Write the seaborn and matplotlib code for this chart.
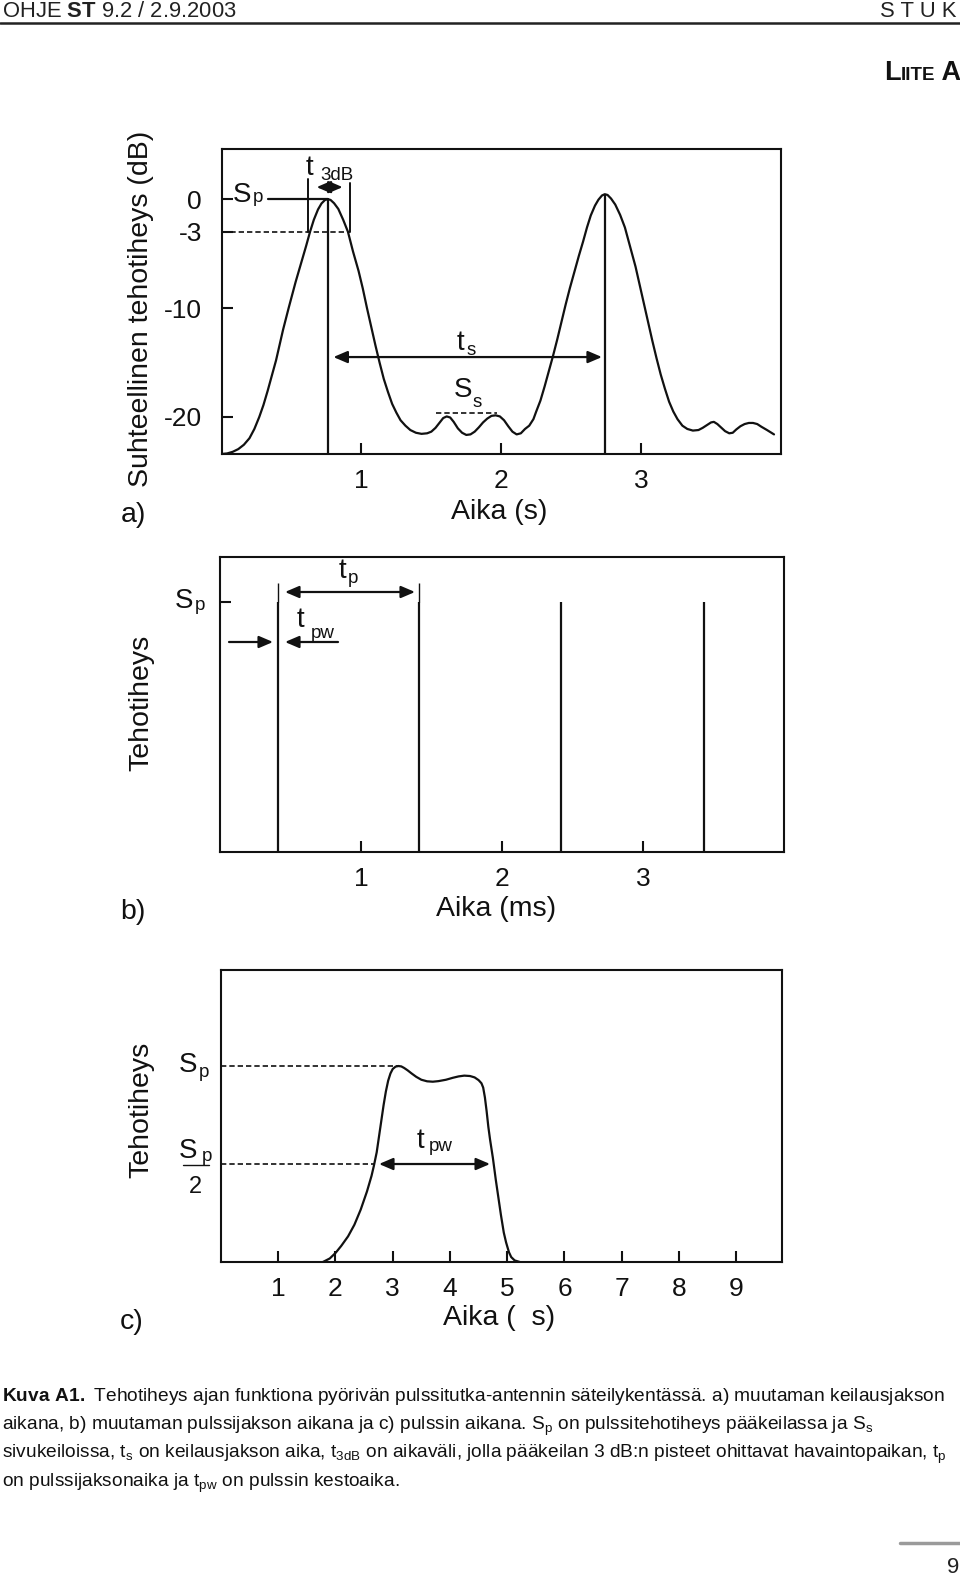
import matplotlib
matplotlib.use("Agg")
import matplotlib.pyplot as plt
from matplotlib import font_manager
from matplotlib.lines import Line2D
from matplotlib.offsetbox import TextArea, HPacker, AnnotationBbox
import seaborn as sns
import pandas as pd

# ---------------- data ----------------
# a) relative power density (dB) during a few scan periods, time in s
scan_time = [0.00, 0.04, 0.08, 0.12, 0.16, 0.20, 0.235, 0.27, 0.30, 0.33, 0.36, 0.39, 0.415, 0.44, 0.46,
             0.48, 0.505, 0.53, 0.555, 0.575, 0.605, 0.633, 0.66, 0.69, 0.715, 0.74, 0.76,
             0.78, 0.805, 0.835, 0.87, 0.904, 0.94, 0.98, 1.01, 1.04, 1.07, 1.10, 1.13, 1.16, 1.19,
             1.22, 1.25, 1.28, 1.315, 1.35, 1.39, 1.43, 1.47, 1.50,
             1.53, 1.56, 1.585, 1.61, 1.635, 1.66, 1.69, 1.72, 1.75, 1.78, 1.81, 1.84, 1.87, 1.90,
             1.93, 1.96, 1.99, 2.02, 2.05, 2.08, 2.11, 2.14, 2.17, 2.20, 2.23,
             2.25, 2.28, 2.31, 2.34, 2.37, 2.40, 2.43, 2.46, 2.49, 2.52, 2.555, 2.585, 2.613, 2.64,
             2.67, 2.695, 2.72, 2.74, 2.76, 2.785, 2.815, 2.85, 2.884, 2.92, 2.96, 2.99, 3.02, 3.05,
             3.08, 3.11, 3.14, 3.17, 3.20, 3.23, 3.26, 3.295, 3.33, 3.37, 3.41,
             3.44, 3.47, 3.50, 3.52, 3.545, 3.57, 3.60, 3.63, 3.655, 3.68, 3.71, 3.74, 3.77, 3.80,
             3.83, 3.86, 3.90, 3.95]
scan_db = [-23.4, -23.35, -23.2, -22.95, -22.55, -21.95, -21.1, -20.0, -18.9, -17.6, -16.2, -14.8, -13.4, -12.0, -11.0,
           -10.0, -8.8, -7.6, -6.5, -5.6, -4.3, -3.0, -1.9, -0.95, -0.4, -0.08, 0.0,
           -0.08, -0.38, -0.9, -1.9, -3.0, -4.8, -6.6, -8.2, -10.0, -11.7, -13.4, -15.0, -16.5, -17.7,
           -18.8, -19.6, -20.3, -20.8, -21.2, -21.45, -21.55, -21.5, -21.35,
           -21.0, -20.5, -20.1, -19.95, -20.05, -20.45, -21.05, -21.45, -21.65, -21.6, -21.35, -20.95, -20.5, -20.15,
           -19.9, -19.85, -19.95, -20.3, -20.85, -21.35, -21.6, -21.5, -21.1, -20.8, -20.2,
           -19.5, -18.5, -17.2, -15.8, -14.4, -12.9, -11.3, -9.7, -8.2, -6.8, -5.2, -3.9, -2.6, -1.5,
           -0.6, -0.05, 0.33, 0.45, 0.38, 0.05, -0.5, -1.45, -2.6, -4.3, -6.2, -7.9, -9.6, -11.3,
           -13.0, -14.6, -16.1, -17.4, -18.6, -19.5, -20.2, -20.8, -21.1, -21.25, -21.2,
           -21.0, -20.75, -20.5, -20.45, -20.65, -20.95, -21.3, -21.5, -21.45, -21.15, -20.85, -20.65, -20.55, -20.55,
           -20.65, -20.9, -21.2, -21.6]
main_peak_times = [0.76, 2.74]
main_peak_db = [0.0, 0.45]
a_xticks = [1, 2, 3]
a_xticklabels = ["1", "2", "3"]
a_yticks = [0, -3, -10, -20]
a_yticklabels = ["0", "-3", "-10", "-20"]

# b) power density during a few pulse periods, time in ms
pulse_times = [0.41, 1.41, 2.42, 3.43]
pulse_level = 1.0          # S_p
b_xticks = [1, 2, 3]
b_xticklabels = ["1", "2", "3"]

# c) power density during one pulse, time in microseconds
pulse_shape_time = [1.78, 1.90, 2.00, 2.10, 2.22, 2.33, 2.44, 2.55, 2.63, 2.67, 2.72, 2.76, 2.80, 2.84,
                    2.88, 2.92, 2.96, 3.00, 3.05, 3.10, 3.15, 3.20, 3.26, 3.33, 3.41, 3.50, 3.60, 3.70,
                    3.80, 3.93, 4.05, 4.15, 4.25, 4.35, 4.43, 4.50, 4.55, 4.58, 4.61, 4.64, 4.67, 4.70,
                    4.75, 4.80, 4.85, 4.89, 4.94, 4.98, 5.03, 5.07, 5.13, 5.22]
pulse_shape_power = [0.0, 0.018, 0.046, 0.082, 0.131, 0.19, 0.267, 0.36, 0.44, 0.49, 0.56, 0.64, 0.72, 0.80,
                     0.87, 0.925, 0.962, 0.985, 0.997, 1.0, 0.998, 0.99, 0.978, 0.962, 0.945, 0.93, 0.922, 0.92,
                     0.923, 0.93, 0.94, 0.947, 0.951, 0.949, 0.942, 0.928, 0.912, 0.89, 0.84, 0.77, 0.69, 0.625,
                     0.53, 0.42, 0.32, 0.24, 0.15, 0.10, 0.05, 0.025, 0.008, 0.0]
c_xticks = [1, 2, 3, 4, 5, 6, 7, 8, 9]
c_xticklabels = ["1", "2", "3", "4", "5", "6", "7", "8", "9"]

caption_lines = [
    r"$\mathbf{Kuva\ A1.}$ Tehotiheys ajan funktiona pyörivän pulssitutka-antennin säteilykentässä. a) muutaman keilausjakson",
    r"aikana, b) muutaman pulssijakson aikana ja c) pulssin aikana. S$_\mathregular{p}$ on pulssitehotiheys pääkeilassa ja S$_\mathregular{s}$",
    r"sivukeiloissa, t$_\mathregular{s}$ on keilausjakson aika, t$_\mathregular{3dB}$ on aikaväli, jolla pääkeilan 3 dB:n pisteet ohittavat havaintopaikan, t$_\mathregular{p}$",
    r"on pulssijaksonaika ja t$_\mathregular{pw}$ on pulssin kestoaika.",
]

# ---------------- style ----------------
sns.set_theme(style="ticks")
installed = {f.name for f in font_manager.fontManager.ttflist}
BASE = "Liberation Sans" if "Liberation Sans" in installed else "DejaVu Sans"
NARROW = "Liberation Sans Narrow" if "Liberation Sans Narrow" in installed else BASE
plt.rcParams["font.family"] = [BASE, "DejaVu Sans"]
plt.rcParams["mathtext.fontset"] = "custom"
plt.rcParams["mathtext.rm"] = BASE
plt.rcParams["mathtext.bf"] = NARROW + ":bold"
plt.rcParams["axes.edgecolor"] = "#111111"

INK = "#111111"
LW = 1.6
DASH = (0, (3.2, 1.8))
W, H = 960, 1576
fig = plt.figure(figsize=(W / 100, H / 100), dpi=100)
fig.patch.set_facecolor("white")


def box(l, t, r, b):
    return [l / W, 1 - b / H, (r - l) / W, (b - t) / H]


def ftext(x, y, s, **kw):
    kw.setdefault("ha", "center")
    kw.setdefault("va", "baseline")
    kw.setdefault("color", INK)
    return fig.text(x / W, 1 - y / H, s, **kw)


def style_axes(ax, xpad=11, ypad=14):
    for s in ax.spines.values():
        s.set_linewidth(1.5)
        s.set_color(INK)
        s.set_visible(True)
    ax.tick_params(axis="both", direction="in", length=8, width=1.5, color=INK,
                   labelsize=19, labelcolor=INK, top=False, right=False)
    ax.tick_params(axis="x", pad=xpad)
    ax.tick_params(axis="y", pad=ypad)
    ax.set_facecolor("white")
    ax.set_xlabel("")
    ax.set_ylabel("")


def arrow(ax, x0, x1, y, style="<|-|>"):
    ax.annotate("", xy=(x1, y), xytext=(x0, y),
                arrowprops=dict(arrowstyle=f"{style},head_length=0.42,head_width=0.18",
                                mutation_scale=20, color=INK, lw=1.6,
                                shrinkA=0, shrinkB=0))


CURVE_KW = dict(color=INK, linewidth=LW, sort=False, estimator=None,
                solid_joinstyle="round", solid_capstyle="round")
SUB = 13.5
BIG = 20
LAB = 20.5

# ---------------- panel a ----------------
axa = fig.add_axes(box(221.5, 149, 781, 454))
sns.lineplot(x=scan_time, y=scan_db, ax=axa, **CURVE_KW)
axa.set_xlim(0, 4)
axa.set_ylim(-23.4, 4.6)
axa.vlines(main_peak_times, -23.4, main_peak_db, color=INK, lw=LW)
axa.plot([0.33, main_peak_times[0]], [main_peak_db[0]] * 2, color=INK, lw=LW)
axa.plot([0, 0.918], [-3, -3], color=INK, lw=1.2, ls=DASH)
axa.plot([0.618, 0.618], [-3, 1.83], color=INK, lw=1.4)
axa.plot([0.918, 0.918], [-3, 1.47], color=INK, lw=1.4)
arrow(axa, 0.68, 0.866, 1.1)
arrow(axa, 0.80, 2.72, -14.5)
axa.plot([1.53, 1.97], [-19.6, -19.6], color=INK, lw=1.2, ls=DASH)
axa.set_xticks(a_xticks)
axa.set_xticklabels(a_xticklabels)
axa.set_yticks(a_yticks)
axa.set_yticklabels(a_yticklabels)
style_axes(axa)

ftext(242, 202, "S", fontsize=BIG)
ftext(258, 201.5, "p", fontsize=SUB)
ftext(309, 175, "t", fontsize=BIG)
ftext(320, 180, "3dB", fontsize=SUB, ha="left")
ftext(460, 350, "t", fontsize=BIG)
ftext(471, 355, "s", fontsize=SUB)
ftext(463, 397, "S", fontsize=BIG)
ftext(477, 407, "s", fontsize=SUB)
ftext(141, 309, "Suhteellinen tehotiheys (dB)", fontsize=LAB, rotation=90, va="center")
ftext(499, 512, "Aika (s)", fontsize=LAB, va="center")
ftext(133, 515, "a)", fontsize=LAB, va="center")

# ---------------- panel b ----------------
axb = fig.add_axes(box(220, 557, 784, 852))
axb.set_xlim(0, 4)
axb.set_ylim(0, 1.18)
axb.vlines(pulse_times, 0, pulse_level, color=INK, lw=LW)
axb.vlines(pulse_times[:2], pulse_level, 1.076, color=INK, lw=1.0)
arrow(axb, 0.461, 1.383, 1.04)
arrow(axb, 0.064, 0.376, 0.84, style="-|>")
arrow(axb, 0.837, 0.461, 0.84, style="-|>")
axb.set_xticks(b_xticks)
axb.set_xticklabels(b_xticklabels)
axb.set_yticks([pulse_level])
axb.set_yticklabels([""])
style_axes(axb)

ftext(184, 608, "S", fontsize=BIG)
ftext(200, 610, "p", fontsize=SUB)
ftext(342, 578, "t", fontsize=BIG)
ftext(353, 583, "p", fontsize=SUB)
ftext(300, 627, "t", fontsize=BIG)
ftext(323, 638, "pw", fontsize=SUB)
ftext(141, 703, "Tehotiheys", fontsize=LAB, rotation=90, va="center")
ftext(496, 909, "Aika (ms)", fontsize=LAB, va="center")
ftext(133, 912, "b)", fontsize=LAB, va="center")

# ---------------- panel c ----------------
axc = fig.add_axes(box(221, 970, 782, 1262))
sns.lineplot(x=pulse_shape_time, y=pulse_shape_power, ax=axc, **CURVE_KW)
axc.set_xlim(0, 9.8)
axc.set_ylim(0, 1.49)
axc.plot([0, 3.10], [1.0, 1.0], color=INK, lw=1.2, ls=DASH)
axc.plot([0, 2.67], [0.5, 0.5], color=INK, lw=1.2, ls=DASH)
arrow(axc, 2.76, 4.70, 0.5)
axc.set_xticks(c_xticks)
axc.set_xticklabels(c_xticklabels)
axc.set_yticks([])
style_axes(axc)

ftext(188.5, 1072, "S", fontsize=BIG)
ftext(204, 1077, "p", fontsize=SUB)
ftext(188.5, 1158, "S", fontsize=BIG)
ftext(207, 1161, "p", fontsize=SUB)
fig.add_artist(Line2D([183 / W, 209 / W], [1 - 1165 / H] * 2, transform=fig.transFigure,
                      color=INK, lw=1.0))
ftext(195, 1193, "2", fontsize=17)
ftext(420, 1148, "t", fontsize=BIG)
ftext(441, 1151, "pw", fontsize=SUB)
ftext(141, 1110, "Tehotiheys", fontsize=LAB, rotation=90, va="center")
ftext(499, 1318, "Aika (  s)", fontsize=LAB, va="center")
ftext(132, 1322, "c)", fontsize=LAB, va="center")

# ---------------- page furniture ----------------
hdr = ftext(2, 17, r"OHJE $\mathbf{ST}$ 9.2 / 2.9.2003", fontsize=14, ha="left",
            family=NARROW, color="#222222")
stuk = ftext(957, 17, "S T U K", fontsize=14, ha="right", family=NARROW, color="#222222")
fig.add_artist(Line2D([0, 1], [1 - 23 / H] * 2, transform=fig.transFigure, color="#222222", lw=1.8))

liite = HPacker(children=[TextArea("L", textprops=dict(fontsize=19.5, fontweight="bold", family=NARROW, color=INK)),
                          TextArea("IITE", textprops=dict(fontsize=13.5, fontweight="bold", family=NARROW, color=INK)),
                          TextArea(" A", textprops=dict(fontsize=19.5, fontweight="bold", family=NARROW, color=INK))],
                align="baseline", pad=0, sep=0)
fig.add_artist(AnnotationBbox(liite, (961 / W, 1 - 86 / H), xycoords="figure fraction",
                              box_alignment=(1, 0), frameon=False, pad=0))

cap_base = [1401, 1430, 1458, 1487]
cap_texts = [ftext(2, b, s, fontsize=14, ha="left", family=NARROW) for s, b in zip(caption_lines, cap_base)]

fig.add_artist(Line2D([900 / W, 1], [1 - 1543 / H] * 2, transform=fig.transFigure, color="#9a9a9a", lw=2.5))
ftext(953, 1573, "9", fontsize=16, color="#222222")

# fit widths of caption / header text to the reference layout
fig.canvas.draw()
r = fig.canvas.get_renderer()
w0 = cap_texts[0].get_window_extent(r).width
fs = 14 * 946 / w0
for t in cap_texts:
    t.set_fontsize(fs)
wh = hdr.get_window_extent(r).width
hfs = 14 * 236 / wh
hdr.set_fontsize(hfs)
stuk.set_fontsize(hfs)

fig.savefig("out.png", dpi=100, facecolor="white")
